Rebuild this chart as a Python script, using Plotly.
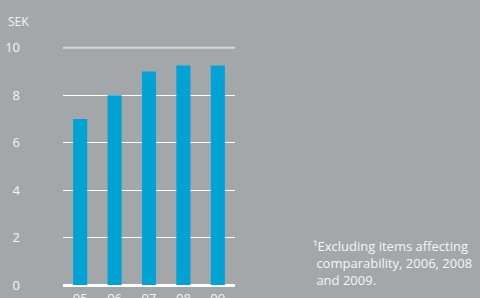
import plotly.graph_objects as go

categories = ["05", "06", "07", "08", "09"]
values = [7.0, 8.0, 9.0, 9.25, 9.25]
y_ticks = [0, 2, 4, 6, 8, 10]
unit_label = "SEK"
footnote = "¹Excluding items affecting<br> comparability, 2006, 2008<br> and 2009."

BG = "#a4a7aa"
BAR = "#00a3d4"
TXT = "#f4f5f5"
FONT = "Open Sans"

fig = go.Figure()
fig.add_trace(go.Bar(x=categories, y=values, marker=dict(color=BAR, line=dict(width=0)),
                     hoverinfo="skip"))

# lighter top reference line at the highest tick
fig.add_shape(type="line", xref="paper", yref="y", x0=0, x1=1,
              y0=max(y_ticks), y1=max(y_ticks),
              line=dict(color="#d6d8da", width=2), layer="above")

fig.update_layout(
    width=480, height=298,
    margin=dict(l=63, r=245, t=43, b=13, autoexpand=False),
    paper_bgcolor=BG, plot_bgcolor=BG,
    bargap=0.59,
    showlegend=False,
    font=dict(family=FONT, color=TXT, size=13),
    xaxis=dict(type="category", range=[-0.5, 4.5], showgrid=False, showline=False,
               zeroline=False, ticks="", automargin=False,
               tickfont=dict(size=13, color=TXT, family=FONT),
               ticklabelstandoff=4),
    yaxis=dict(range=[0, 10.2], tickvals=y_ticks, showgrid=True, gridcolor="#ffffff",
               gridwidth=1, zeroline=True, zerolinecolor="#ffffff", zerolinewidth=3,
               showline=False, ticks="", automargin=False,
               tickfont=dict(size=13, color=TXT, family=FONT),
               ticklabelstandoff=42),
    annotations=[
        dict(text=unit_label, xref="paper", yref="paper", x=-0.33, y=1.088,
             xanchor="left", yanchor="middle", showarrow=False,
             font=dict(size=12, color=TXT, family=FONT)),
        dict(text=footnote, xref="paper", yref="paper", x=1.44, y=0.205,
             xanchor="left", yanchor="top", align="left", showarrow=False,
             font=dict(size=13, color=TXT, family=FONT)),
    ],
)

fig.write_html(
    "out.html",
    config={"displayModeBar": False},
    post_script="document.body.style.margin='0';document.body.style.overflow='hidden';"
                "document.body.style.background='%s';" % BG,
)
